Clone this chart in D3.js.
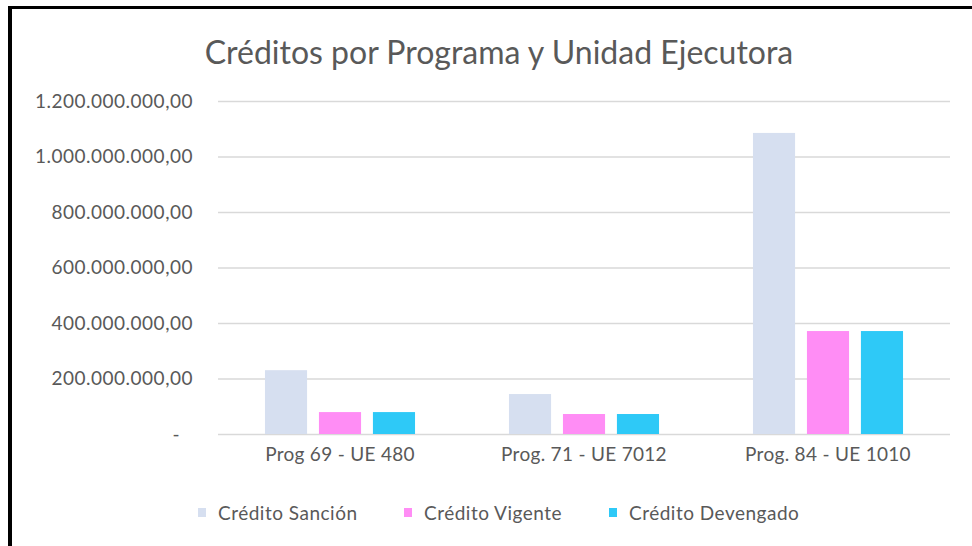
<!DOCTYPE html>
<html>
<head>
<meta charset="utf-8">
<script src="https://cdn.jsdelivr.net/npm/d3@7"></script>
<style>
  body { margin: 0; background: #fff; }
  svg { display: block; font-family: Lato, "Open Sans", sans-serif; }
</style>
</head>
<body>
<div id="chart"></div>
<script>
// data
let categories = ["Prog 69 - UE 480", "Prog. 71 - UE 7012", "Prog. 84 - UE 1010"];
let seriesNames = ["Crédito Sanción", "Crédito Vigente", "Crédito Devengado"];
let sancion = [230000000, 144000000, 1085000000];
let vigente = [79000000, 72000000, 371000000];
let devengado = [79000000, 72000000, 371000000];
let yTicks = [0, 200000000, 400000000, 600000000, 800000000, 1000000000, 1200000000];
let colors = ["#d6dff0", "#ff8df5", "#2ec9f7"];

let width = 972, height = 546;
let margin = {top: 101, right: 22, bottom: 112, left: 218};
let plotW = width - margin.left - margin.right,
    plotH = height - margin.top - margin.bottom;

let svg = d3.select("#chart").append("svg")
    .attr("width", width)
    .attr("height", height);

// black frame on top and left like the screenshot
svg.append("rect").attr("x", 8).attr("y", 6).attr("width", width - 8).attr("height", 3).attr("fill", "#000");
svg.append("rect").attr("x", 8).attr("y", 6).attr("width", 4).attr("height", height - 6).attr("fill", "#000");

svg.append("text")
    .attr("x", 499)
    .attr("y", 64)
    .attr("text-anchor", "middle")
    .attr("font-size", 32)
    .attr("fill", "#595959")
    .text("Créditos por Programa y Unidad Ejecutora");

let g = svg.append("g")
    .attr("transform", "translate(" + margin.left + "," + margin.top + ")");

let x0 = d3.scaleBand().domain(categories).range([0, plotW]).paddingInner(0.385).paddingOuter(0.1925);
let x1 = d3.scaleBand().domain(seriesNames).range([0, x0.bandwidth()]).paddingInner(0.22);
let y = d3.scaleLinear().domain([0, 1200000000]).range([plotH, 0]);

let fmt = function(v) {
    if (v === 0) return "-";
    let s = d3.format(",.2f")(v);
    return s.replace(/,/g, "#").replace(".", ",").replace(/#/g, ".");
};

// gridlines
g.append("g")
    .attr("class", "grid")
    .call(d3.axisLeft(y).tickValues(yTicks).tickSize(-plotW).tickFormat(""))
    .call(function(a) {
        a.select(".domain").remove();
        a.selectAll("line").attr("stroke", "#d9d9d9").attr("stroke-width", 1.3);
    });

// y labels
g.append("g")
    .call(d3.axisLeft(y).tickValues(yTicks).tickSize(0).tickPadding(25).tickFormat(fmt))
    .call(function(a) {
        a.select(".domain").remove();
        a.selectAll("text")
            .attr("font-size", 19)
            .attr("letter-spacing", 0.5)
            .attr("fill", "#595959")
            .attr("font-family", "Lato, sans-serif");
        a.selectAll(".tick text").filter(function(d) { return d === 0; }).attr("dx", -13);
    });

// x labels
g.append("g")
    .attr("transform", "translate(0," + plotH + ")")
    .call(d3.axisBottom(x0).tickSize(0).tickPadding(14))
    .call(function(a) {
        a.select(".domain").remove();
        a.selectAll("text")
            .attr("font-size", 19)
            .attr("letter-spacing", 0.3)
            .attr("fill", "#595959")
            .attr("font-family", "Lato, sans-serif");
    });

let rows = categories.map(function(c, i) {
    return {cat: c, vals: [sancion[i], vigente[i], devengado[i]]};
});

g.selectAll(".grp")
    .data(rows)
    .enter().append("g")
    .attr("class", "grp")
    .attr("transform", function(d) { return "translate(" + x0(d.cat) + ",0)"; })
    .selectAll("rect")
    .data(function(d) { return d.vals.map(function(v, j) { return {name: seriesNames[j], v: v, c: colors[j]}; }); })
    .enter().append("rect")
    .attr("x", function(d) { return x1(d.name); })
    .attr("y", function(d) { return y(d.v); })
    .attr("width", x1.bandwidth())
    .attr("height", function(d) { return plotH - y(d.v); })
    .attr("fill", function(d) { return d.c; });

// legend
let legendX = [198, 404, 609];
let legend = svg.append("g").attr("transform", "translate(0,513)");
seriesNames.forEach(function(n, i) {
    legend.append("rect")
        .attr("x", legendX[i]).attr("y", -5)
        .attr("width", 8).attr("height", 9)
        .attr("fill", colors[i]);
    legend.append("text")
        .attr("x", legendX[i] + 20).attr("y", 0)
        .attr("dy", "0.35em")
        .attr("font-size", 19)
        .attr("letter-spacing", 0.5)
        .attr("fill", "#595959")
        .text(n);
});
</script>
</body>
</html>
